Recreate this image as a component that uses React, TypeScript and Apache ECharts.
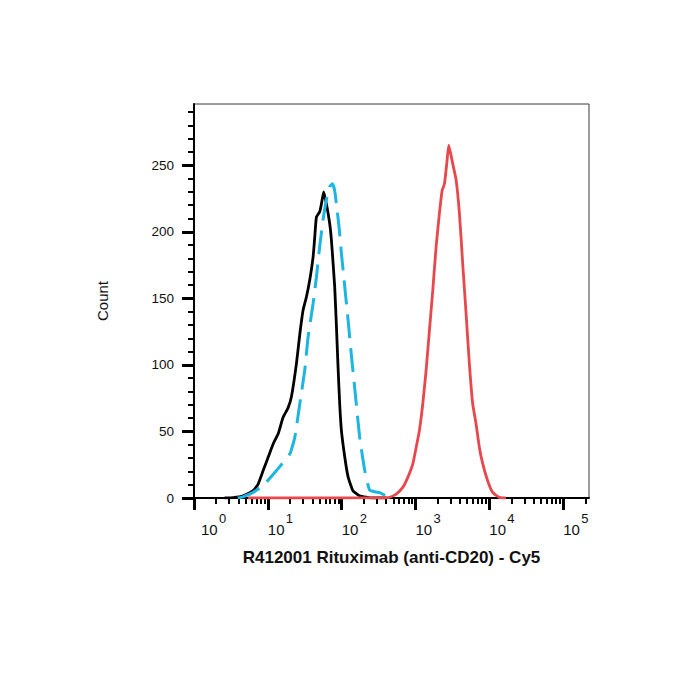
import { useEffect, useRef } from "react";
import * as echarts from "echarts";

// Cy5 fluorescence intensity vs. event count, one histogram per sample
const isotypeCurve: [number, number][] = [
  [2.6, 0], [3.4, 0.3], [4.64, 1.7], [6.33, 5.5], [7.39, 10.5], [8.64, 20.6],
  [10.1, 30.6], [11.8, 40.6], [13.8, 48.2], [16.1, 60.7], [18.8, 67.7], [20.9, 76.2],
  [24.4, 101], [27.1, 123], [30.0, 141], [33.3, 151], [37.0, 164], [41.0, 181],
  [43.2, 196], [45.5, 211], [50.4, 215], [53.2, 221], [57.1, 230], [62.1, 221],
  [68.9, 206], [72.6, 194], [80.4, 159], [84.8, 130], [89.1, 100], [94.0, 71],
  [99.1, 51], [110, 31], [122, 16], [142, 5.5], [175, 1.7], [265, 0], [400, 0],
];

const blankCurve: [number, number][] = [
  [3.9, 0], [4.6, 0.8], [6.33, 4.2], [8.64, 9.3], [13.1, 20.6], [19.8, 33],
  [23.2, 45.6], [27.1, 70.8], [31.6, 95.9], [35.1, 121], [41.0, 146], [45.5, 166],
  [50.4, 189], [56.0, 209], [62.1, 224], [68.9, 234], [74.8, 236], [80.4, 231],
  [84.8, 221], [92, 204], [99.1, 184], [110, 159], [122, 134], [135, 108],
  [150, 83], [175, 46], [205, 21], [239, 6], [290, 4.5], [326, 4], [405, 1.4], [489, 0],
];

const rituximabCurve: [number, number][] = [
  [5.4, 0], [100, 0], [300, 0.2], [445, 0.5], [548, 3], [673, 8], [787, 15.5],
  [920, 25.6], [1021, 38], [1132, 51], [1256, 71], [1393, 96], [1545, 126],
  [1714, 156], [1904, 189], [2111, 214], [2295, 231], [2466, 236], [2650, 251],
  [2820, 265], [3198, 251], [3548, 239], [3934, 214], [4360, 176], [4838, 139],
  [5366, 101], [5945, 71], [6600, 56], [7328, 38], [8117, 26], [9487, 13],
  [11086, 4.2], [13646, 0.5], [16800, 0],
];

// axis ticks: decades (log10 of intensity) and counts
const decadeTicks = [0, 1, 2, 3, 4, 5];
const countTicks = [0, 50, 100, 150, 200, 250];

const X_MAX = 5.35; // log10 of upper intensity limit
const Y_MAX = 296;

const FONT = "'Liberation Sans', Arial, Helvetica, sans-serif";
const INK = "#111";

const toDecades = (pts: [number, number][]) =>
  pts.map(([v, c]) => [Math.log10(v), c]);

const minorDecadeTicks: number[] = [];
for (const d of decadeTicks) {
  for (let k = 2; k <= 9; k++) {
    const t = d + Math.log10(k);
    if (t < X_MAX) minorDecadeTicks.push(t);
  }
}

const minorCountTicks: number[] = [];
for (let c = 10; c < Y_MAX; c += 10) {
  if (c % 50 !== 0) minorCountTicks.push(c);
}

export default function App() {
  const ref = useRef<HTMLDivElement>(null);

  useEffect(() => {
    if (!ref.current) return;
    const chart = echarts.init(ref.current, undefined, { renderer: "svg" });

    const xCommon = {
      type: "value" as const,
      min: 0,
      max: X_MAX,
      position: "bottom" as const,
      splitLine: { show: false },
    };
    const yCommon = {
      type: "value" as const,
      min: 0,
      max: Y_MAX,
      position: "left" as const,
      splitLine: { show: false },
    };

    chart.setOption({
      animation: false,
      backgroundColor: "#ffffff",
      grid: {
        left: 194,
        right: 111,
        top: 104,
        bottom: 202,
        show: true,
        borderColor: "#3a3a3a",
        borderWidth: 1,
        backgroundColor: "transparent",
      },
      xAxis: [
        {
          // major decades: "10" base of each power label
          ...xCommon,
          name: "R412001 Rituximab (anti-CD20) - Cy5",
          nameLocation: "middle",
          nameGap: 51,
          nameTextStyle: {
            fontFamily: FONT,
            fontSize: 17,
            fontWeight: "bold",
            color: INK,
          },
          axisLine: { show: true, lineStyle: { color: "#000", width: 2 } },
          axisTick: {
            show: true,
            customValues: decadeTicks,
            length: 12,
            lineStyle: { color: "#000", width: 3 },
          },
          axisLabel: {
            show: true,
            customValues: decadeTicks,
            margin: 24,
            align: "left",
            fontFamily: FONT,
            fontSize: 15,
            color: INK,
            formatter: (v: number) => (Math.round(v) === 0 ? "{b0|10}" : "{b|10}"),
            rich: {
              b: { fontFamily: FONT, fontSize: 15, color: INK },
              b0: { fontFamily: FONT, fontSize: 15, color: INK, padding: [0, 0, 0, 7] },
            },
          },
        },
        {
          // minor ticks at 2..9 within each decade, plus the exponents
          ...xCommon,
          axisLine: { show: false },
          axisTick: {
            show: true,
            customValues: minorDecadeTicks,
            length: 6,
            lineStyle: { color: "#000", width: 2 },
          },
          axisLabel: {
            show: true,
            customValues: decadeTicks,
            margin: 14,
            align: "left",
            fontFamily: FONT,
            fontSize: 13,
            color: INK,
            formatter: (v: number) => {
              const n = Math.round(v);
              return n === 0 ? `{e0|${n}}` : `{e|${n}}`;
            },
            rich: {
              e: { fontFamily: FONT, fontSize: 13, color: INK, padding: [0, 0, 0, 18] },
              e0: { fontFamily: FONT, fontSize: 13, color: INK, padding: [0, 0, 0, 25] },
            },
          },
        },
      ],
      yAxis: [
        {
          ...yCommon,
          name: "Count",
          nameLocation: "middle",
          nameGap: 84,
          nameTextStyle: { fontFamily: FONT, fontSize: 15, color: INK },
          axisLine: { show: true, lineStyle: { color: "#000", width: 2 } },
          axisTick: {
            show: true,
            customValues: countTicks,
            length: 12,
            lineStyle: { color: "#000", width: 3 },
          },
          axisLabel: {
            show: true,
            customValues: countTicks,
            margin: 20,
            fontFamily: FONT,
            fontSize: 13.5,
            color: INK,
          },
        },
        {
          ...yCommon,
          axisLine: { show: false },
          axisLabel: { show: false },
          axisTick: {
            show: true,
            customValues: minorCountTicks,
            length: 6,
            lineStyle: { color: "#000", width: 2 },
          },
        },
      ],
      series: [
        {
          name: "Isotype control",
          type: "line",
          xAxisIndex: 0,
          yAxisIndex: 0,
          data: toDecades(isotypeCurve),
          showSymbol: false,
          smooth: 0.15,
          lineStyle: { color: "#000000", width: 2.8 },
          z: 2,
        },
        {
          name: "Unstained",
          type: "line",
          xAxisIndex: 0,
          yAxisIndex: 0,
          data: toDecades(blankCurve),
          showSymbol: false,
          smooth: 0.15,
          lineStyle: { color: "#1db5e2", width: 3, type: [24, 10] },
          z: 3,
        },
        {
          name: "Rituximab",
          type: "line",
          xAxisIndex: 0,
          yAxisIndex: 0,
          data: toDecades(rituximabCurve),
          showSymbol: false,
          smooth: 0.15,
          lineStyle: { color: "#e8474c", width: 2.8 },
          z: 4,
        },
      ],
    });

    return () => chart.dispose();
  }, []);

  return (
    <div
      ref={ref}
      style={{ position: "fixed", left: 0, top: 0, width: 700, height: 700, background: "#fff" }}
    />
  );
}
